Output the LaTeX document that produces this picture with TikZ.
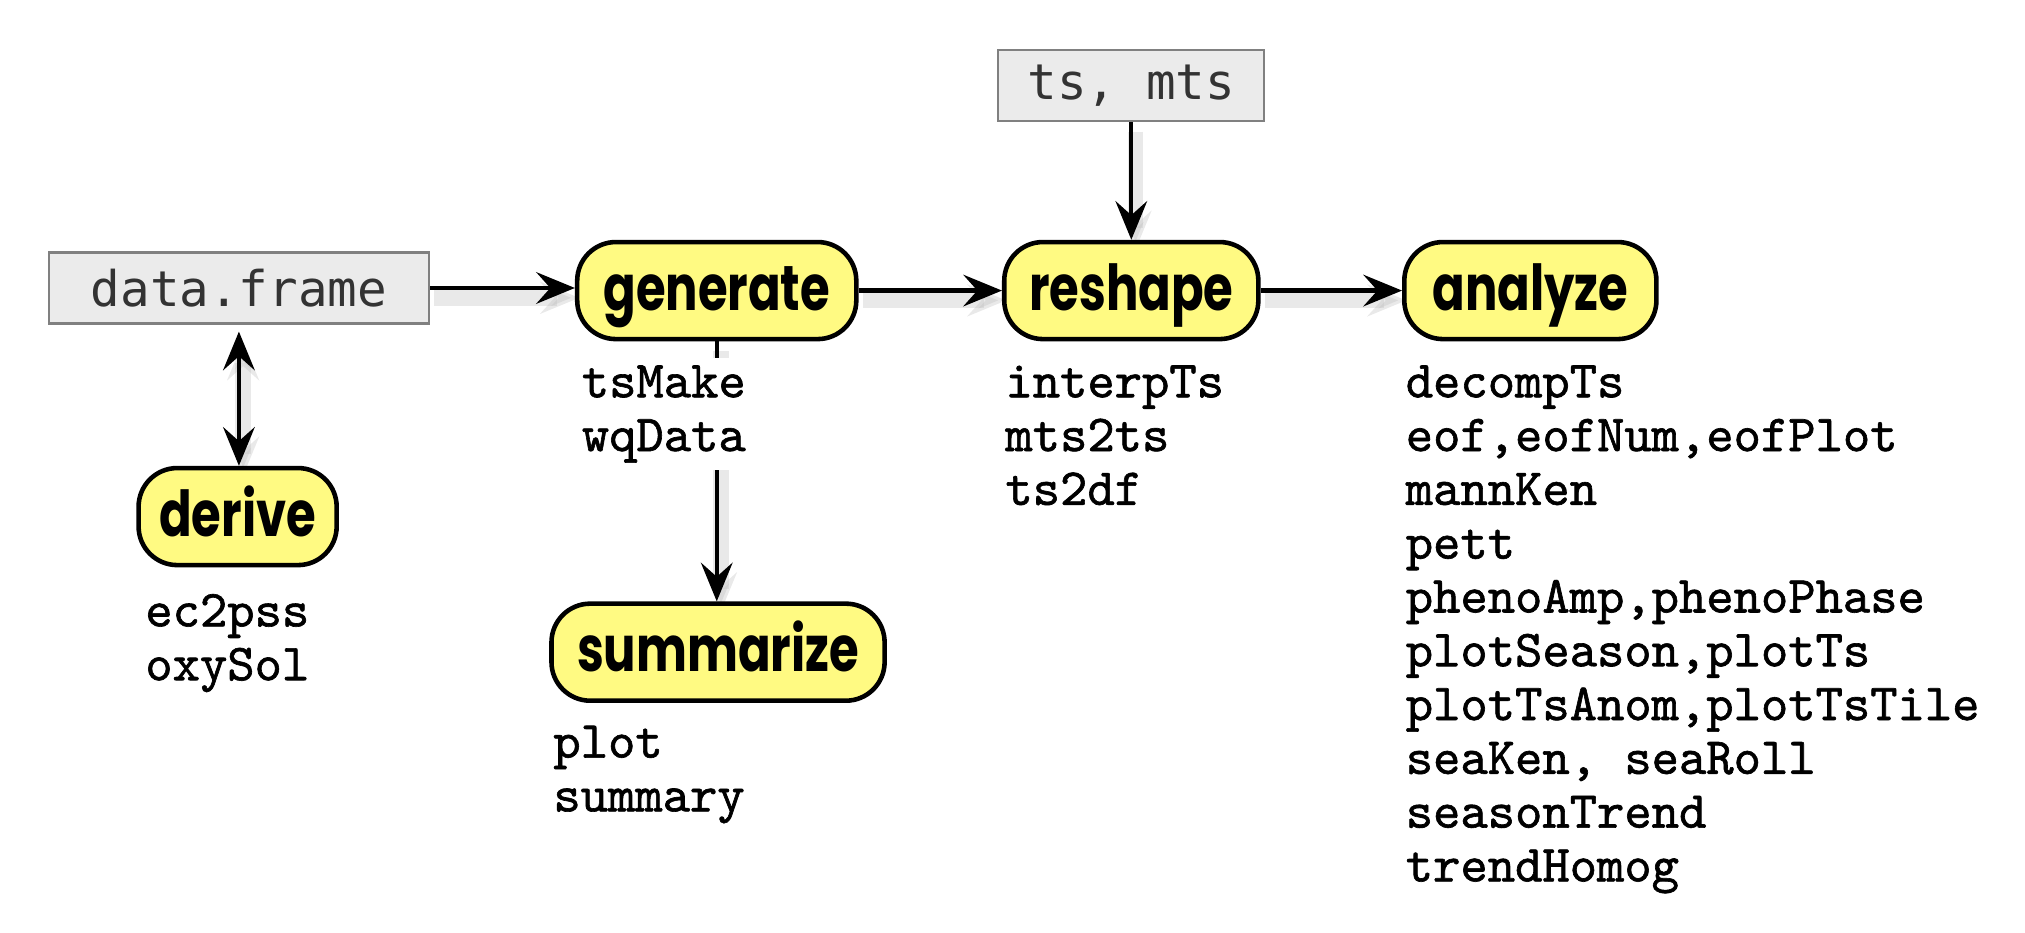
\documentclass[tikz,border=0pt]{standalone}
\usepackage{fontspec}
\usepackage{tikz}
\usetikzlibrary{arrows.meta, backgrounds}
\newfontfamily\stagefont{Poppins}[FakeStretch=0.76]
\newfontfamily\listfont{lmmono10-regular.otf}[FakeBold=1.2]
\newfontfamily\classfont{DejaVu Sans Mono}
\definecolor{stageyellow}{RGB}{255,250,130}
\definecolor{classgray}{RGB}{235,235,235}

\begin{document}
\begin{tikzpicture}[x=0.012915cm, y=-0.012915cm,
        stage/.style={draw=black, line width=1.3pt, fill=stageyellow, rounded corners=11pt, minimum height=0.97cm, inner sep=0pt, text height=13pt, text depth=1.8pt, font=\stagefont\bfseries\fontsize{18}{20}\selectfont},
        classbox/.style={draw=black!50, line width=0.6pt, fill=classgray, minimum height=0.71cm, inner sep=0pt, text=black!80, font=\classfont\fontsize{14}{16}\selectfont},
        funclist/.style={align=left, anchor=north west, inner xsep=0pt, inner ysep=2pt, fill=white, font=\listfont\fontsize{14.8}{15.3}\selectfont},
        arrowshade/.style={preaction={draw=black!25, opacity=0.35, line width=4.5pt, transform canvas={shift={(1.2pt,-2.8pt)}}}},
        flow/.style={line width=1.2pt, -{Stealth[length=11pt, width=9pt, inset=4pt]}, arrowshade},
        twoway/.style={line width=1.2pt, {Stealth[length=11pt, width=9pt, inset=4pt]}-{Stealth[length=11pt, width=9pt, inset=4pt]}, arrowshade}]
        \useasboundingbox (0,0) rectangle (1568,722.4);

        \node[classbox, minimum width=3.8cm] (frame) at (185,223) {data.frame};
        \node[classbox, minimum width=2.66cm] (tsmts) at (876,66) {ts, mts};

        \node[stage, minimum width=2.79cm] (gen) at (555,225) {generate};
        \node[stage, minimum width=2.54cm] (resh) at (876,225) {reshape};
        \node[stage, minimum width=2.52cm] (anal) at (1185,225) {analyze};
        \node[stage, minimum width=1.98cm] (deriv) at (184,400) {derive};
        \node[stage, minimum width=3.33cm] (summ) at (556,505) {summarize};

        \node[funclist] (genfun) at (450,277) {tsMake\\wqData};
        \node[funclist] (reshfun) at (778,277) {interpTs\\mts2ts\\ts2df};
        \node[funclist] (analfun) at (1088,277) {decompTs\\eof,eofNum,eofPlot\\mannKen\\pett\\phenoAmp,phenoPhase\\plotSeason,plotTs\\plotTsAnom,plotTsTile\\seaKen, seaRoll\\seasonTrend\\trendHomog};
        \node[funclist] (derivfun) at (112,454) {ec2pss\\oxySol};
        \node[funclist] (summfun) at (428,556) {plot\\summary};

        \begin{scope}[on background layer]
            \draw[flow] (frame.east) -- (frame.east -| gen.west);
            \draw[flow] (gen) -- (resh);
            \draw[flow] (resh) -- (anal);
            \draw[flow] (tsmts) -- (resh);
            \draw[twoway, shorten <=2pt] (frame.south) -- (frame.south |- deriv.north);
            \draw[flow] (gen) -- (gen |- summ.north);
        \end{scope}
\end{tikzpicture}
\end{document}
